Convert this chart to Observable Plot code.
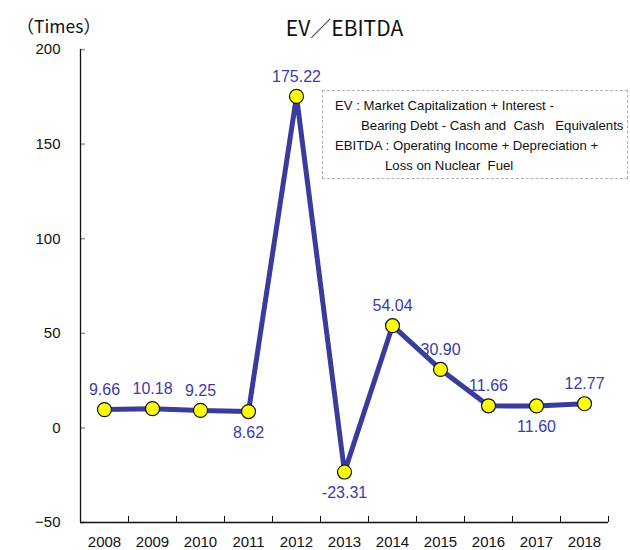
<!DOCTYPE html>
<html><head><meta charset="utf-8">
<script src="https://cdn.jsdelivr.net/npm/d3@7"></script>
<script src="https://cdn.jsdelivr.net/npm/@observablehq/plot@0.6"></script>
<style>
body{margin:0;background:#fff;}
#wrap{position:relative;width:630px;height:550px;}
#note{position:absolute;left:322px;top:90px;width:306px;height:89px;border:1px dashed #b0b0b0;box-sizing:border-box;font-family:"Liberation Sans",Arial,sans-serif;font-size:13.2px;color:#111;white-space:pre;}
#note div{position:absolute;line-height:16px;}
</style></head>
<body><div id="wrap"><div id="chart"></div>
<div id="note"></div></div>
<script>
const years = [2008,2009,2010,2011,2012,2013,2014,2015,2016,2017,2018];
const values = [9.66,10.18,9.25,8.62,175.22,-23.31,54.04,30.90,11.66,11.60,12.77];
const labels = ["9.66","10.18","9.25","8.62","175.22","-23.31","54.04","30.90","11.66","11.60","12.77"];
const labelBelow = [false,false,false,true,false,true,false,false,false,true,false];
const yTicks = [-50,0,50,100,150,200];
const title = "EV／EBITDA";
const unit = "（Times）";
const noteLines = [
  "EV : Market Capitalization + Interest -",
  "Bearing Debt - Cash and  Cash   Equivalents",
  "EBITDA : Operating Income + Depreciation +",
  "Loss on Nuclear  Fuel"
];
const noteIndent = [12, 38, 12, 62];

const data = years.map((y,i)=>({year:y, value:values[i], label:labels[i], below:labelBelow[i]}));
const bounds = years.map(y=>y+0.5);
const xMin = years[0]-0.5, xMax = years[years.length-1]+0.5;
const lineColor = "#3b3b9e";
const labelColor = "#3b3ba6";
const font = "'Liberation Sans', Arial, sans-serif";

const chart = Plot.plot({
  width: 630, height: 550,
  marginLeft: 80, marginRight: 22, marginTop: 49, marginBottom: 28,
  style: {fontFamily: font, fontSize: "15px", color: "#111", background: "#fff"},
  x: {domain: [xMin, xMax]},
  y: {domain: [yTicks[0], yTicks[yTicks.length-1]]},
  marks: [
    Plot.axisY(yTicks, {tickSize: 0, tickPadding: 20, label: null, fontSize: 15}),
    Plot.axisX(years, {tickSize: 0, tickPadding: 14, label: null, tickFormat: d=>String(d), fontSize: 15}),
    Plot.ruleY(yTicks, {x1: xMin, x2: xMin, insetRight: -5, stroke: "#999", strokeWidth: 1.5}),
    Plot.ruleX(bounds, {y1: yTicks[0], y2: yTicks[0], insetTop: -6, stroke: "#111"}),
    Plot.ruleX([xMin], {stroke: "#111", strokeWidth: 1.3}),
    Plot.ruleY([yTicks[0]], {stroke: "#111", strokeWidth: 1.3}),
    Plot.line(data, {x: "year", y: "value", stroke: lineColor, strokeWidth: 5, strokeLinejoin: "round"}),
    Plot.dot(data, {x: "year", y: "value", r: 7, fill: "#ffff00", stroke: "#111", strokeWidth: 1.2}),
    Plot.text(data.filter(d=>!d.below), {x: "year", y: "value", text: "label", dy: -20, fill: labelColor, fontSize: 16}),
    Plot.text(data.filter(d=>d.below), {x: "year", y: "value", text: "label", dy: 21, fill: labelColor, fontSize: 16}),
    Plot.text([title], {frameAnchor: "top", dy: -28, fontSize: 21, fill: "#111", fontFamily: "'Noto Sans CJK JP', " + font}),
    Plot.text([unit], {frameAnchor: "top-left", dx: -64, dy: -29, textAnchor: "start", fontSize: 17.5, fill: "#111", fontFamily: "'Noto Sans CJK JP', " + font})
  ]
});
document.getElementById("chart").append(chart);
const note = document.getElementById("note");
const tops = [7, 27, 47, 67];
noteLines.forEach((t,i)=>{const d=document.createElement("div");d.textContent=t;d.style.left=noteIndent[i]+"px";d.style.top=tops[i]+"px";note.append(d);});
</script></body></html>
